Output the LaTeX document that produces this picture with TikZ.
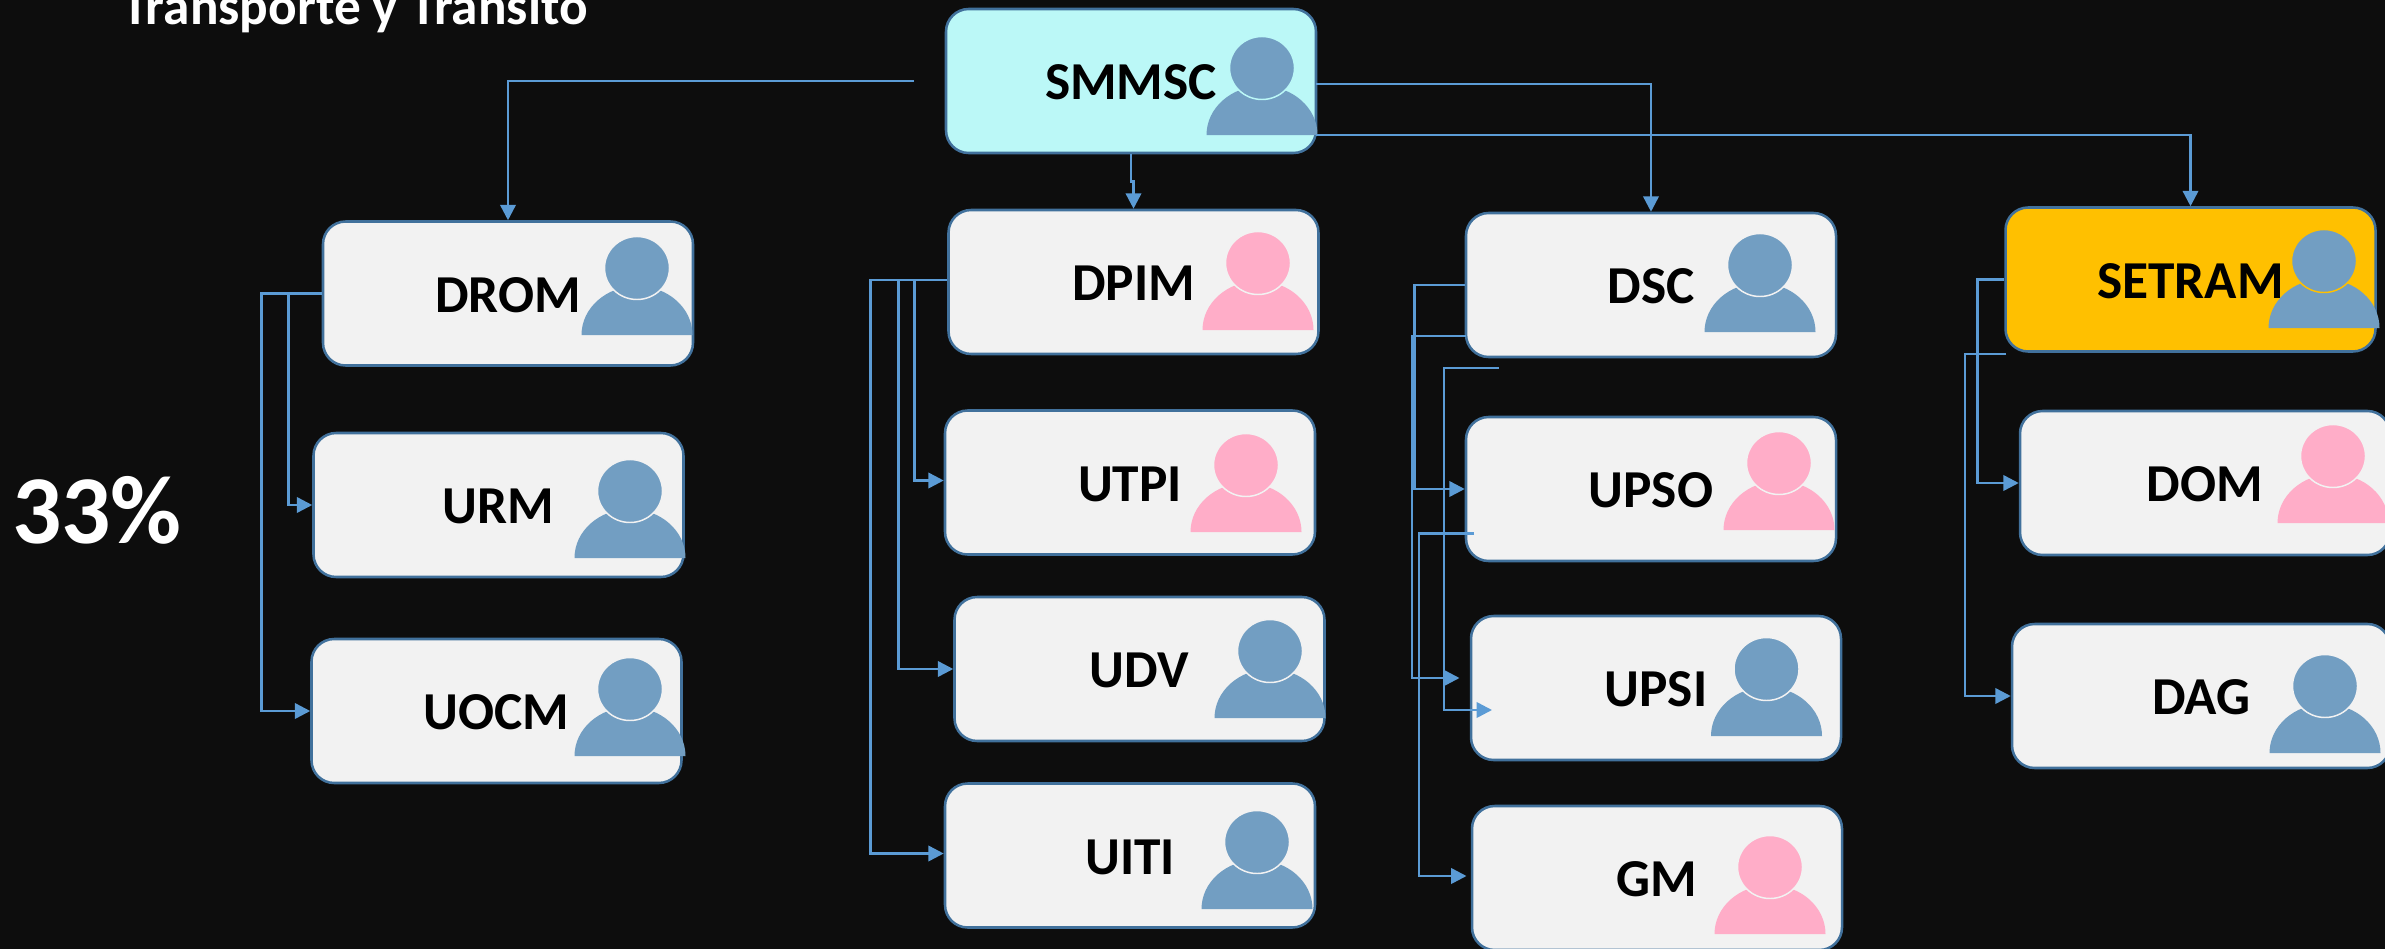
\documentclass[tikz,border=0pt]{standalone}
\usepackage{fontspec}
\setmainfont{Carlito}
\usetikzlibrary{arrows.meta}
\definecolor{bgc}{HTML}{0D0D0D}
\definecolor{edgec}{HTML}{41719C}
\definecolor{linec}{HTML}{5B9BD5}
\definecolor{cardc}{HTML}{F2F2F2}
\definecolor{cyanc}{HTML}{BBF8F7}
\definecolor{goldc}{HTML}{FFC000}
\definecolor{bluep}{HTML}{729EC2}
\definecolor{pinkp}{HTML}{FFADC8}
\tikzset{
  card/.style={draw=edgec,line width=1.9pt,fill=cardc,rounded corners=17pt,minimum width=277.5pt,minimum height=108pt,inner sep=0pt,font=\fontsize{40}{44}\selectfont\bfseries,text=black,text height=28pt,text depth=0pt},
  conn/.style={draw=linec,line width=1.9pt},
  arr/.style={conn,-{Triangle[length=11.5pt,width=11.5pt]}},
}
\newcommand{\personicon}[4]{%
  \fill[#3] (#1-55.5,#2+67) arc[start angle=180,end angle=360,x radius=55.5,y radius=49] -- cycle;
  \filldraw[fill=#3,draw=#4,line width=1.1pt] (#1,#2) ellipse[x radius=32.5,y radius=31.5];
}
\begin{document}
\begin{tikzpicture}[x=0.75pt,y=-0.75pt]
\useasboundingbox (0,0) rectangle (2385,949);
\fill[bgc] (0,0) rectangle (2385,949);
\clip (0,0) rectangle (2385,949);
\node[anchor=base west,text=white,font=\fontsize{40}{44}\selectfont\bfseries,inner sep=0pt] (title) at (122,25) {Transporte y Transito};
\node[text=white,font=\fontsize{73}{78}\selectfont\bfseries,inner sep=0pt] (pct) at (97,510) {33\%};
\node[card,fill=cyanc] (smmsc) at (1131,81) {SMMSC};
\node[card] (drom) at (508,293.5) {DROM};
\node[card] (urm) at (498.5,505) {URM};
\node[card] (uocm) at (496.5,711) {UOCM};
\node[card] (dpim) at (1133.5,282) {DPIM};
\node[card] (utpi) at (1130,482.5) {UTPI};
\node[card] (udv) at (1139.5,669) {UDV};
\node[card] (uiti) at (1130,855.5) {UITI};
\node[card] (dsc) at (1651,285) {DSC};
\node[card] (upso) at (1651,489) {UPSO};
\node[card] (upsi) at (1656,688) {UPSI};
\node[card] (gm) at (1657,878) {GM};
\node[card,fill=goldc] (setram) at (2190.5,279.5) {SETRAM};
\node[card] (dom) at (2205,483) {DOM};
\node[card,minimum width=283.5pt] (dag) at (2201,696) {DAG};
\personicon{1262}{68}{bluep}{cyanc}
\personicon{637}{268}{bluep}{cardc}
\personicon{630}{491}{bluep}{cardc}
\personicon{630}{689}{bluep}{cardc}
\personicon{1258}{263}{pinkp}{cardc}
\personicon{1246}{465}{pinkp}{cardc}
\personicon{1270}{651}{bluep}{cardc}
\personicon{1257}{842}{bluep}{cardc}
\personicon{1760}{265}{bluep}{cardc}
\personicon{1779}{463}{pinkp}{cardc}
\personicon{1766.5}{669}{bluep}{cardc}
\personicon{1770}{867}{pinkp}{cardc}
\personicon{2324}{261}{bluep}{goldc}
\personicon{2333}{456}{pinkp}{cardc}
\personicon{2325}{686}{bluep}{cardc}
% free ends
\coordinate (s1) at (914,81);
\coordinate (s2) at (1316,84);
\coordinate (s3) at (1316,135);
\coordinate (d2) at (1466,336);
\coordinate (d2e) at (1459.5,678);
\coordinate (d3) at (1499,368);
\coordinate (d3e) at (1492,710);
\coordinate (d4) at (1474,533.5);
\coordinate (d4e) at (1466.5,876);
\coordinate (t2) at (2006,354);
% connectors
\draw[arr] (s1) -| (drom.north);
\draw[arr] (smmsc.south) -- ++(0,27) -| (dpim.north);
\draw[arr] (s2) -| (dsc.north);
\draw[arr] (s3) -| (setram.north);
\draw[arr] (drom.west) -- ++(-33,0) |- (urm.west);
\draw[arr] (drom.west) -- ++(-60,0) |- (uocm.west);
\draw[arr] ([yshift=1.5pt]dpim.west) -- ++(-33,0) |- ([yshift=1.5pt]utpi.west);
\draw[arr] ([yshift=1.5pt]dpim.west) -- ++(-49,0) |- (udv.west);
\draw[arr] ([yshift=1.5pt]dpim.west) -- ++(-77,0) |- ([yshift=1.5pt]uiti.west);
\draw[arr] (dsc.west) -- ++(-50,0) |- (upso.west);
\draw[arr] (d2) -- (1412,336) |- (d2e);
\draw[arr] (d3) -- (1444,368) |- (d3e);
\draw[arr] (d4) -- (1419,533.5) |- (d4e);
\draw[arr] (setram.west) -- ++(-27,0) |- (dom.west);
\draw[arr] (t2) -- (1965,354) |- (dag.west);
\end{tikzpicture}
\end{document}
